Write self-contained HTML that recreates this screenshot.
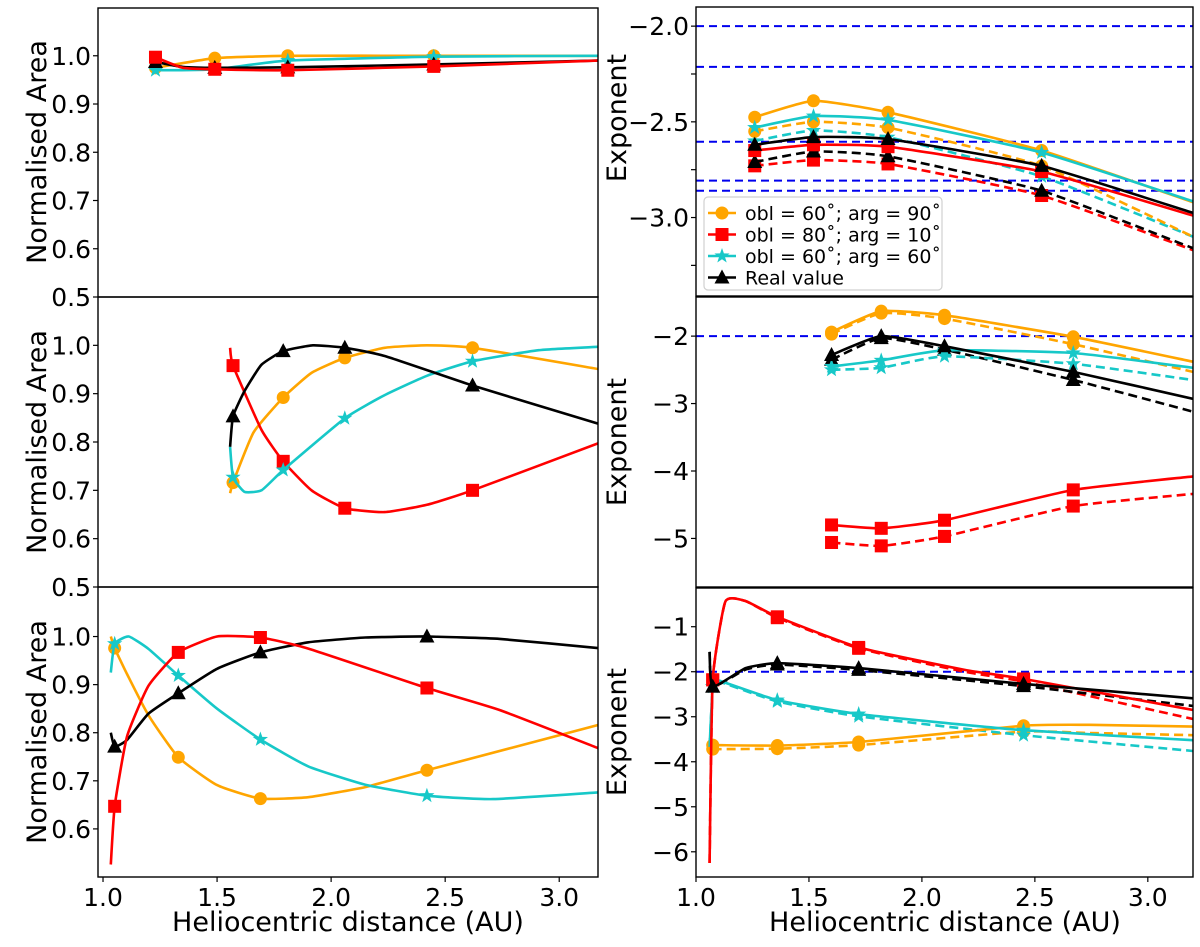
<!DOCTYPE html>
<html><head><meta charset="utf-8">
<style>
body{margin:0;background:#fff;}
svg text{font-family:"DejaVu Sans","Liberation Sans",sans-serif;fill:#000;}
</style></head>
<body>
<svg id="fig" width="1200" height="942" viewBox="0 0 1200 942" xmlns="http://www.w3.org/2000/svg"></svg>
<script>
// ---------- DATA ----------
// left top (normalised area)
const ltMarkX = [1.23, 1.49, 1.81, 2.45];
const ltOrangeX = [1.23, 1.49, 1.81, 2.45, 3.17];
const ltOrangeY = [0.975, 0.995, 1.0, 1.0, 1.0];
const ltRedX = [1.23, 1.35, 1.49, 1.81, 2.45, 3.17];
const ltRedY = [0.997, 0.975, 0.972, 0.970, 0.978, 0.99];
const ltCyanX = [1.23, 1.49, 1.81, 2.45, 3.17];
const ltCyanY = [0.970, 0.972, 0.99, 0.998, 1.0];
const ltBlackX = [1.23, 1.35, 1.49, 1.81, 2.45, 3.17];
const ltBlackY = [0.987, 0.977, 0.975, 0.976, 0.982, 0.99];
// left middle
const lmMarkX = [1.57, 1.79, 2.06, 2.62];
const lmRedX = [1.557, 1.57, 1.695, 1.79, 1.914, 2.06, 2.235, 2.42, 2.62, 3.17];
const lmRedY = [0.995, 0.958, 0.825, 0.76, 0.70, 0.663, 0.655, 0.67, 0.70, 0.797];
const lmBlackX = [1.557, 1.57, 1.62, 1.695, 1.79, 1.92, 2.06, 2.235, 2.62, 3.17];
const lmBlackY = [0.79, 0.853, 0.905, 0.96, 0.988, 1.0, 0.995, 0.978, 0.917, 0.838];
const lmOrangeX = [1.557, 1.57, 1.66, 1.79, 1.914, 2.06, 2.235, 2.42, 2.62, 3.17];
const lmOrangeY = [0.694, 0.716, 0.82, 0.892, 0.943, 0.974, 0.995, 1.0, 0.995, 0.951];
const lmCyanX = [1.557, 1.57, 1.62, 1.695, 1.79, 2.06, 2.235, 2.42, 2.62, 2.91, 3.17];
const lmCyanY = [0.79, 0.727, 0.697, 0.70, 0.742, 0.849, 0.897, 0.937, 0.967, 0.99, 0.997];
// left bottom
const lbMarkX = [1.051, 1.33, 1.69, 2.42];
const lbRedX = [1.034, 1.051, 1.105, 1.2, 1.33, 1.5, 1.69, 1.9, 2.42, 2.74, 3.17];
const lbRedY = [0.526, 0.647, 0.792, 0.898, 0.967, 1.0, 0.998, 0.975, 0.893, 0.847, 0.768];
const lbBlackX = [1.034, 1.051, 1.105, 1.2, 1.33, 1.5, 1.69, 1.9, 2.15, 2.42, 2.74, 3.17];
const lbBlackY = [0.80, 0.771, 0.785, 0.84, 0.882, 0.933, 0.967, 0.988, 0.998, 1.0, 0.995, 0.976];
const lbOrangeX = [1.034, 1.051, 1.105, 1.2, 1.33, 1.5, 1.69, 1.9, 2.15, 2.42, 3.17];
const lbOrangeY = [1.0, 0.976, 0.922, 0.836, 0.749, 0.691, 0.663, 0.666, 0.687, 0.722, 0.816];
const lbCyanX = [1.034, 1.051, 1.113, 1.2, 1.33, 1.5, 1.69, 1.9, 2.15, 2.42, 2.71, 3.17];
const lbCyanY = [0.925, 0.985, 1.0, 0.974, 0.919, 0.85, 0.786, 0.73, 0.692, 0.669, 0.662, 0.676];
// right top (exponent)
const rtX = [1.26, 1.52, 1.85, 2.53, 3.2];
const rtOrange = [-2.476, -2.39, -2.45, -2.65, -2.92];
const rtOrangeD = [-2.55, -2.50, -2.53, -2.73, -3.10];
const rtCyan = [-2.53, -2.47, -2.49, -2.66, -2.915];
const rtCyanD = [-2.60, -2.545, -2.58, -2.785, -3.10];
const rtBlack = [-2.62, -2.58, -2.59, -2.73, -2.976];
const rtBlackD = [-2.71, -2.655, -2.68, -2.86, -3.16];
const rtRed = [-2.65, -2.62, -2.63, -2.76, -2.99];
const rtRedD = [-2.73, -2.70, -2.72, -2.885, -3.17];
const rtRefLines = [-2.0, -2.213, -2.604, -2.807, -2.86];
// right middle
const rmX = [1.60, 1.82, 2.10, 2.67, 3.2];
const rmOrange = [-1.94, -1.63, -1.69, -2.01, -2.38];
const rmOrangeD = [-1.97, -1.66, -1.74, -2.12, -2.53];
const rmBlack = [-2.28, -2.0, -2.15, -2.53, -2.93];
const rmBlackD = [-2.35, -2.03, -2.2, -2.65, -3.12];
const rmCyan = [-2.45, -2.36, -2.21, -2.25, -2.47];
const rmCyanD = [-2.5, -2.47, -2.30, -2.41, -2.65];
const rmRed = [-4.80, -4.85, -4.73, -4.28, -4.08];
const rmRedD = [-5.06, -5.11, -4.97, -4.52, -4.34];
const rmRefLines = [-2.0];
// right bottom
const rbMarkX = [1.074, 1.36, 1.72, 2.45];
const rbRedX = [1.06, 1.074, 1.13, 1.22, 1.36, 1.72, 2.19, 2.45, 3.2];
const rbRed = [-6.25, -2.18, -0.44, -0.43, -0.78, -1.46, -1.96, -2.16, -2.85];
const rbRedD = [-6.25, -2.18, -0.44, -0.43, -0.80, -1.48, -2.0, -2.22, -3.05];
const rbBlackX = [1.06, 1.074, 1.22, 1.36, 1.72, 2.45, 3.2];
const rbBlack = [-1.56, -2.33, -1.92, -1.81, -1.92, -2.27, -2.59];
const rbBlackD = [-1.56, -2.33, -1.95, -1.84, -1.96, -2.32, -2.76];
const rbCyanX = [1.06, 1.074, 1.09, 1.36, 1.72, 2.45, 3.2];
const rbCyan = [-3.67, -2.33, -2.18, -2.63, -2.94, -3.30, -3.52];
const rbCyanD = [-3.67, -2.33, -2.2, -2.66, -2.99, -3.41, -3.76];
const rbOrangeX = [1.074, 1.36, 1.72, 2.45, 2.74, 3.2];
const rbOrange = [-3.63, -3.64, -3.56, -3.2, -3.18, -3.22];
const rbOrangeD = [-3.72, -3.71, -3.63, -3.33, -3.36, -3.41];
const rbRefLines = [-2.0];

// ---------- DRAWING ----------
const NS = "http://www.w3.org/2000/svg";
const svg = document.getElementById('fig');
const C = {orange:'#ffa500', red:'#ff0000', cyan:'#17c8c8', black:'#000000'};
let PARENT = svg;
function mk(tag, attrs, parent){
  const e = document.createElementNS(NS, tag);
  for (const k in attrs) e.setAttribute(k, attrs[k]);
  (parent||PARENT).appendChild(e);
  return e;
}
function makePanel(px0, px1, py0, py1, xmin, xmax, ymin, ymax){
  return {sx: v => px0 + (v - xmin) / (xmax - xmin) * (px1 - px0),
          sy: v => py1 - (v - ymin) / (ymax - ymin) * (py1 - py0),
          px0, px1, py0, py1};
}
function smoothPath(pts){
  let d = 'M' + pts[0][0].toFixed(1) + ',' + pts[0][1].toFixed(1);
  for (let i = 0; i < pts.length - 1; i++){
    const p0 = pts[Math.max(0, i-1)], p1 = pts[i], p2 = pts[i+1], p3 = pts[Math.min(pts.length-1, i+2)];
    const t = 0.08;
    const c1 = [p1[0] + (p2[0]-p0[0])*t, p1[1] + (p2[1]-p0[1])*t];
    const c2 = [p2[0] - (p3[0]-p1[0])*t, p2[1] - (p3[1]-p1[1])*t];
    d += 'C' + c1[0].toFixed(1)+','+c1[1].toFixed(1)+' '+c2[0].toFixed(1)+','+c2[1].toFixed(1)+' '+p2[0].toFixed(1)+','+p2[1].toFixed(1);
  }
  return d;
}
function marker(g, kind, x, y, color){
  let e;
  if (kind === 'circle') e = mk('circle', {cx:x, cy:y, r:6.5, fill:color}, g);
  else if (kind === 'square') e = mk('rect', {x:x-6.5, y:y-6.5, width:13, height:13, fill:color}, g);
  else if (kind === 'triangle') e = mk('polygon', {points:`${x},${y-8} ${x-7.5},${y+6} ${x+7.5},${y+6}`, fill:color}, g);
  else {
    let p = [];
    for (let i = 0; i < 10; i++){
      const r = i % 2 ? 3.2 : 8, a = -Math.PI/2 + i*Math.PI/5;
      p.push((x + r*Math.cos(a)).toFixed(1) + ',' + (y + r*Math.sin(a)).toFixed(1));
    }
    e = mk('polygon', {points:p.join(' '), fill:color}, g);
  }
  
  
}
function series(P, name, xs, ys, color, kind, markXs, dashed){
  const g = mk('g', {});
  
  
  const pts = xs.map((x, i) => [P.sx(x), P.sy(ys[i])]);
  const path = mk('path', {d:smoothPath(pts), fill:'none', stroke:color, 'stroke-width':2.6, 'stroke-linejoin':'round'}, g);
  if (dashed) path.setAttribute('stroke-dasharray', '9,5');
  
  
  xs.forEach((x, i) => {
    if (markXs.some(m => Math.abs(m - x) < 1e-6)) marker(g, kind, P.sx(x), P.sy(ys[i]), color);
  });
}
function refLines(P, vals, name){
  vals.forEach(v => {
    const l = mk('line', {x1:P.px0, x2:P.px1, y1:P.sy(v), y2:P.sy(v), stroke:'#0000ee', 'stroke-width':2, 'stroke-dasharray':'8,5'});
    
    
  });
}
function frame(P, name){
  const r = mk('rect', {x:P.px0, y:P.py0, width:P.px1-P.px0, height:P.py1-P.py0, fill:'none', stroke:'#000', 'stroke-width':1.4});
  
  
}
function yTicks(P, vals, labels, name){
  vals.forEach((v, i) => {
    const y = P.sy(v);
    const t = mk('line', {x1:P.px0-5, x2:P.px0, y1:y, y2:y, stroke:'#000', 'stroke-width':1.2});
    
    
    if (labels[i] !== '') {
      const tx = mk('text', {x:P.px0-7, y:y+9, 'text-anchor':'end', 'font-size':25});
      tx.textContent = labels[i];
      
      
    }
  });
}
function xTicks(P, vals, labels, name){
  vals.forEach((v, i) => {
    const x = P.sx(v);
    const t = mk('line', {x1:x, x2:x, y1:P.py1, y2:P.py1+5, stroke:'#000', 'stroke-width':1.2});
    
    
    const tx = mk('text', {x:x, y:P.py1+29, 'text-anchor':'middle', 'font-size':25});
    tx.textContent = labels[i];
    
    
  });
}
function yTitle(x, y, txt, name){
  const t = mk('text', {x:x, y:y, 'text-anchor':'middle', 'font-size':27, transform:`rotate(-90 ${x} ${y})`});
  t.textContent = txt;
  
  
}
function xTitle(x, y, txt, name){
  const t = mk('text', {x:x, y:y, 'text-anchor':'middle', 'font-size':27});
  t.textContent = txt;
  
  
}

const XT = [1.0, 1.5, 2.0, 2.5, 3.0];
const XTL = ['1.0', '1.5', '2.0', '2.5', '3.0'];
const AT = [0.5, 0.6, 0.7, 0.8, 0.9, 1.0];
const ATL = ['0.5', '0.6', '0.7', '0.8', '0.9', '1.0'];

const LT = makePanel(98, 598, 8, 297, 0.978, 3.17, 0.5, 1.099);
const LM = makePanel(98, 598, 297, 587, 0.978, 3.17, 0.5, 1.1);
const LB = makePanel(98, 598, 587, 877, 0.978, 3.17, 0.5, 1.103);
const RT = makePanel(696, 1193, 7, 296, 1.0, 3.2, -3.41, -1.90);
const RM = makePanel(696, 1193, 297, 587, 1.0, 3.2, -5.72, -1.42);
const RB = makePanel(696, 1193, 588, 877, 1.0, 3.2, -6.56, -0.14);

const defs = mk('defs', {});
[['cLT',LT],['cLM',LM],['cLB',LB],['cRT',RT],['cRM',RM],['cRB',RB]].forEach(([id,P]) => {
  const cp = mk('clipPath', {id:id}, defs);
  mk('rect', {x:P.px0, y:P.py0, width:P.px1-P.px0, height:P.py1-P.py0}, cp);
});
function drawIn(id, name, fn){
  const g = mk('g', {'clip-path':`url(#${id})`});
  
  
  PARENT = g; fn(); PARENT = svg;
}

drawIn('cLT','plot-area-left-top', () => {
  series(LT, 'area-obl60-arg90', ltOrangeX, ltOrangeY, C.orange, 'circle', ltMarkX);
  series(LT, 'area-obl60-arg60', ltCyanX, ltCyanY, C.cyan, 'star', ltMarkX);
  series(LT, 'area-real-value', ltBlackX, ltBlackY, C.black, 'triangle', ltMarkX);
  series(LT, 'area-obl80-arg10', ltRedX, ltRedY, C.red, 'square', ltMarkX);
});
drawIn('cLM','plot-area-left-middle', () => {
  series(LM, 'area-obl60-arg90', lmOrangeX, lmOrangeY, C.orange, 'circle', lmMarkX);
  series(LM, 'area-obl80-arg10', lmRedX, lmRedY, C.red, 'square', lmMarkX);
  series(LM, 'area-obl60-arg60', lmCyanX, lmCyanY, C.cyan, 'star', lmMarkX);
  series(LM, 'area-real-value', lmBlackX, lmBlackY, C.black, 'triangle', lmMarkX);
});
drawIn('cLB','plot-area-left-bottom', () => {
  series(LB, 'area-obl60-arg90', lbOrangeX, lbOrangeY, C.orange, 'circle', lbMarkX);
  series(LB, 'area-obl60-arg60', lbCyanX, lbCyanY, C.cyan, 'star', lbMarkX);
  series(LB, 'area-real-value', lbBlackX, lbBlackY, C.black, 'triangle', lbMarkX);
  series(LB, 'area-obl80-arg10', lbRedX, lbRedY, C.red, 'square', lbMarkX);
});
const rtMark = rtX.slice(0, 4), rmMark = rmX.slice(0, 4);
drawIn('cRT','plot-area-right-top', () => {
  refLines(RT, rtRefLines, 'reference-line');
  series(RT, 'exp-obl80-arg10-dashed', rtX, rtRedD, C.red, 'square', rtMark, true);
  series(RT, 'exp-real-dashed', rtX, rtBlackD, C.black, 'triangle', rtMark, true);
  series(RT, 'exp-obl60-arg60-dashed', rtX, rtCyanD, C.cyan, 'star', rtMark, true);
  series(RT, 'exp-obl60-arg90-dashed', rtX, rtOrangeD, C.orange, 'circle', rtMark, true);
  series(RT, 'exp-obl80-arg10', rtX, rtRed, C.red, 'square', rtMark);
  series(RT, 'exp-real', rtX, rtBlack, C.black, 'triangle', rtMark);
  series(RT, 'exp-obl60-arg90', rtX, rtOrange, C.orange, 'circle', rtMark);
  series(RT, 'exp-obl60-arg60', rtX, rtCyan, C.cyan, 'star', rtMark);
});
drawIn('cRM','plot-area-right-middle', () => {
  refLines(RM, rmRefLines, 'reference-line');
  series(RM, 'exp-obl80-arg10-dashed', rmX, rmRedD, C.red, 'square', rmMark, true);
  series(RM, 'exp-real-dashed', rmX, rmBlackD, C.black, 'triangle', rmMark, true);
  series(RM, 'exp-obl60-arg60-dashed', rmX, rmCyanD, C.cyan, 'star', rmMark, true);
  series(RM, 'exp-obl60-arg90-dashed', rmX, rmOrangeD, C.orange, 'circle', rmMark, true);
  series(RM, 'exp-obl80-arg10', rmX, rmRed, C.red, 'square', rmMark);
  series(RM, 'exp-obl60-arg60', rmX, rmCyan, C.cyan, 'star', rmMark);
  series(RM, 'exp-real', rmX, rmBlack, C.black, 'triangle', rmMark);
  series(RM, 'exp-obl60-arg90', rmX, rmOrange, C.orange, 'circle', rmMark);
});
drawIn('cRB','plot-area-right-bottom', () => {
  refLines(RB, rbRefLines, 'reference-line');
  series(RB, 'exp-obl60-arg90-dashed', rbOrangeX, rbOrangeD, C.orange, 'circle', rbMarkX, true);
  series(RB, 'exp-obl60-arg60-dashed', rbCyanX, rbCyanD, C.cyan, 'star', rbMarkX, true);
  series(RB, 'exp-obl80-arg10-dashed', rbRedX, rbRedD, C.red, 'square', rbMarkX, true);
  series(RB, 'exp-real-dashed', rbBlackX, rbBlackD, C.black, 'triangle', rbMarkX, true);
  series(RB, 'exp-obl60-arg90', rbOrangeX, rbOrange, C.orange, 'circle', rbMarkX);
  series(RB, 'exp-obl60-arg60', rbCyanX, rbCyan, C.cyan, 'star', rbMarkX);
  series(RB, 'exp-obl80-arg10', rbRedX, rbRed, C.red, 'square', rbMarkX);
  series(RB, 'exp-real', rbBlackX, rbBlack, C.black, 'triangle', rbMarkX);
});

[[LT,'frame-left-top'],[LM,'frame-left-middle'],[LB,'frame-left-bottom'],[RT,'frame-right-top'],[RM,'frame-right-middle'],[RB,'frame-right-bottom']].forEach(([P,n]) => frame(P,n));
yTicks(LT, AT, ATL, 'y-axis-left-top');
yTicks(LM, AT, ATL, 'y-axis-left-middle');
yTicks(LB, AT.slice(1), ATL.slice(1), 'y-axis-left-bottom');
yTicks(RT, [-2.0, -2.25, -2.5, -2.75, -3.0, -3.25], ['\u22122.0', '', '\u22122.5', '', '\u22123.0', ''], 'y-axis-right-top');
yTicks(RM, [-2, -3, -4, -5], ['\u22122', '\u22123', '\u22124', '\u22125'], 'y-axis-right-middle');
yTicks(RB, [-1, -2, -3, -4, -5, -6], ['\u22121', '\u22122', '\u22123', '\u22124', '\u22125', '\u22126'], 'y-axis-right-bottom');
xTicks(LB, XT, XTL, 'x-axis-left');
xTicks(RB, XT, XTL, 'x-axis-right');
yTitle(46, 152, 'Normalised Area', 'y-axis-title-left-top');
yTitle(46, 442, 'Normalised Area', 'y-axis-title-left-middle');
yTitle(46, 732, 'Normalised Area', 'y-axis-title-left-bottom');
yTitle(626, 118, 'Exponent', 'y-axis-title-right-top');
yTitle(626, 442, 'Exponent', 'y-axis-title-right-middle');
yTitle(626, 732, 'Exponent', 'y-axis-title-right-bottom');
xTitle(348, 931, 'Heliocentric distance (AU)', 'x-axis-title-left');
xTitle(945, 931, 'Heliocentric distance (AU)', 'x-axis-title-right');

const lg = mk('g', {});


mk('rect', {x:704, y:197, width:238, height:93, rx:4, fill:'#fff', 'fill-opacity':0.85, stroke:'#d0d0d0', 'stroke-width':1.2}, lg);
const legLabels = ['obl = 60\u02da; arg = 90\u02da', 'obl = 80\u02da; arg = 10\u02da', 'obl = 60\u02da; arg = 60\u02da', 'Real value'];
const legColors = [C.orange, C.red, C.cyan, C.black];
const legKinds = ['circle', 'square', 'star', 'triangle'];
legLabels.forEach((s, i) => {
  const y = 213 + i * 21.5;
  const e = mk('g', {}, lg);
  
  
  mk('line', {x1:708, x2:736, y1:y, y2:y, stroke:legColors[i], 'stroke-width':2.6}, e);
  marker(e, legKinds[i], 722, y, legColors[i]);
  const t = mk('text', {x:745, y:y+7, 'font-size':19}, e);
  t.textContent = s;
});
</script>
</body></html>
